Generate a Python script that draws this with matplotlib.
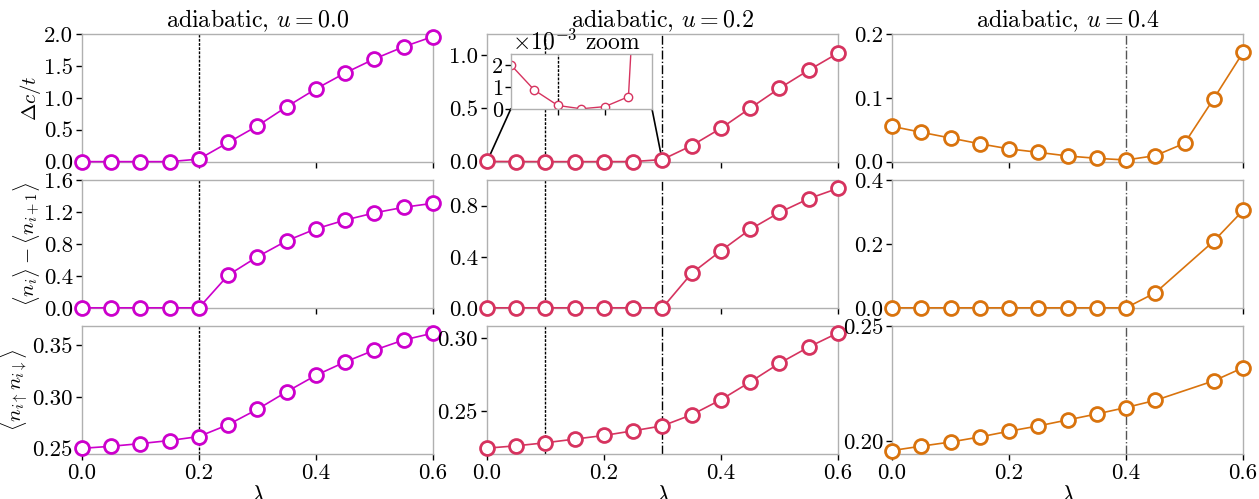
# Adiabatic sweeps: gap, density imbalance and double occupancy vs lambda for u = 0.0, 0.2, 0.4
import numpy as np
import matplotlib.pyplot as plt
from matplotlib.patches import ConnectionPatch

plt.rcParams.update({
    'font.family': 'serif',
    'font.serif': ['cmr10'],
    'mathtext.fontset': 'cm',
    'axes.formatter.use_mathtext': True,
    'font.size': 14,
    'xtick.labelsize': 16.5,
    'ytick.labelsize': 16.5,
    'axes.edgecolor': '#b0b0b0',
    'axes.linewidth': 1.0,
    'xtick.direction': 'out',
    'ytick.direction': 'out',
    'xtick.major.size': 4.5,
    'ytick.major.size': 4.5,
})

lam = np.round(np.arange(0, 0.601, 0.05), 2)
lam_u04 = np.array([0.0, 0.05, 0.1, 0.15, 0.2, 0.25, 0.3, 0.35, 0.4, 0.45, 0.55, 0.6])

# u = 0.0
gap_u00 = [0.0, 0.0, 0.0, 0.0, 0.04, 0.30, 0.56, 0.86, 1.14, 1.39, 1.61, 1.80, 1.96]
dn_u00 = [0.0, 0.0, 0.0, 0.0, 0.0, 0.41, 0.64, 0.84, 0.99, 1.10, 1.19, 1.26, 1.31]
docc_u00 = [0.2500, 0.2520, 0.2546, 0.2576, 0.2615, 0.2730, 0.2880, 0.3050, 0.3210,
            0.3340, 0.3455, 0.3553, 0.3620]

# u = 0.2
gap_u02 = [0.0020, 0.00085, 0.00015, 0.0, 0.0001, 0.00055, 0.02, 0.151, 0.314, 0.503,
           0.690, 0.860, 1.020]
dn_u02 = [0.0, 0.0, 0.0, 0.0, 0.0, 0.0, 0.0, 0.271, 0.447, 0.615, 0.747, 0.855, 0.936]
docc_u02 = [0.2246, 0.2262, 0.2283, 0.2308, 0.2333, 0.2365, 0.2399, 0.2475, 0.2578,
            0.2700, 0.2828, 0.2939, 0.3036]

# u = 0.4
gap_u04 = [0.0553, 0.0460, 0.0370, 0.0280, 0.0200, 0.0146, 0.0089, 0.0052, 0.0026,
           0.0094, 0.0287, 0.0987, 0.1710]
dn_u04 = [0.0, 0.0, 0.0, 0.0, 0.0, 0.0, 0.0, 0.0, 0.0, 0.047, 0.209, 0.305]
docc_u04 = [0.1960, 0.1979, 0.1997, 0.2019, 0.2044, 0.2067, 0.2093, 0.2119, 0.2147,
            0.2178, 0.2263, 0.2320]

titles = [r'adiabatic, $u=0.0$', r'adiabatic, $u=0.2$', r'adiabatic, $u=0.4$']
colors = ['#cc00cc', '#d6335f', '#d9730d']
ylabels = [r'$\Delta c/t$', r'$\langle n_i\rangle - \langle n_{i+1}\rangle$',
           r'$\langle n_{i\uparrow} n_{i\downarrow}\rangle$']

series = [
    [(lam, gap_u00), (lam, dn_u00), (lam, docc_u00)],
    [(lam, gap_u02), (lam, dn_u02), (lam, docc_u02)],
    [(lam, gap_u04), (lam_u04, dn_u04), (lam_u04, docc_u04)],
]
ylims = [
    [(0, 2.0), (0, 1.6), (0.2445, 0.3686)],
    [(0, 1.2), (0, 1.0), (0.2206, 0.3081)],
    [(0, 0.2), (0, 0.4), (0.1945, 0.25)],
]
yticks = [
    [np.arange(0, 2.01, 0.5), np.arange(0, 1.61, 0.4), [0.25, 0.30, 0.35]],
    [[0.0, 0.5, 1.0], [0.0, 0.4, 0.8], [0.25, 0.30]],
    [[0.0, 0.1, 0.2], [0.0, 0.2, 0.4], [0.20, 0.25]],
]
ylabfmt = ['%.1f', '%.1f', '%.2f']
# transition markers per column: (position, linestyle, colour)
vlines = [
    [(0.2, (0, (2, 1)), 'k')],
    [(0.1, (0, (2, 1)), 'k'), (0.3, '-.', 'k')],
    [(0.4, '-.', '#555555')],
]

fig, axes = plt.subplots(3, 3, figsize=(12.59, 4.99), dpi=100)
fig.subplots_adjust(left=0.0651, right=0.9873, top=0.9319, bottom=0.0902,
                    wspace=0.154, hspace=0.145)

for c in range(3):
    for r in range(3):
        ax = axes[r, c]
        x, y = series[c][r]
        for pos, ls, vc in vlines[c]:
            ax.axvline(pos, color=vc, ls=ls, lw=1.0, zorder=1)
        ax.plot(x, y, '-o', color=colors[c], mfc='white', mec=colors[c],
                ms=10, mew=2, lw=1.2, clip_on=False, zorder=3)
        ax.set_xlim(0, 0.6)
        ax.set_ylim(*ylims[c][r])
        ax.set_yticks(yticks[c][r])
        ax.set_yticklabels([ylabfmt[r] % v for v in yticks[c][r]])
        ax.set_xticks([0.0, 0.2, 0.4, 0.6])
        ax.tick_params(colors='k', width=1.0, pad=2)
        if r == 2:
            ax.set_xticklabels(['0.0', '0.2', '0.4', '0.6'])
            ax.set_xlabel(r'$\lambda$', fontsize=17, labelpad=2)
        else:
            ax.set_xticklabels([])
        if c == 0:
            ax.set_ylabel(ylabels[r], fontsize=15, labelpad=1)
    axes[0, c].set_title(titles[c], pad=3, fontsize=17.3)

# zoomed view of the small gap for u = 0.2
ax = axes[0, 1]
axin = ax.inset_axes([0.068, 0.414, 0.402, 0.43])
axin.set_zorder(5)
axin.axvline(0.1, color='k', ls=(0, (2, 1)), lw=1.0)
axin.plot(lam, gap_u02, '-o', color=colors[1], mfc='white', mec=colors[1],
          ms=6, mew=1, lw=1.0)
axin.set_xlim(0, 0.3)
axin.set_ylim(0, 0.0025)
axin.set_xticks([0.1, 0.2])
axin.set_xticklabels([])
axin.set_yticks([0, 0.001, 0.002])
axin.set_yticklabels(['0', '1', '2'])
axin.tick_params(colors='k', width=1.0, pad=1, labelsize=16)
axin.text(0.01, 0.99, r'$\times10^{-3}$ zoom', transform=axin.transAxes,
          ha='left', va='bottom', fontsize=17)
for xa, xb in [(0, 0.0), (1, 0.3)]:
    con = ConnectionPatch(xyA=(xa, 0), coordsA=axin.transAxes, xyB=(xb, 0),
                          coordsB=ax.transData, color='k', lw=1.2)
    ax.add_artist(con)

fig.savefig('out.png', dpi=100)
